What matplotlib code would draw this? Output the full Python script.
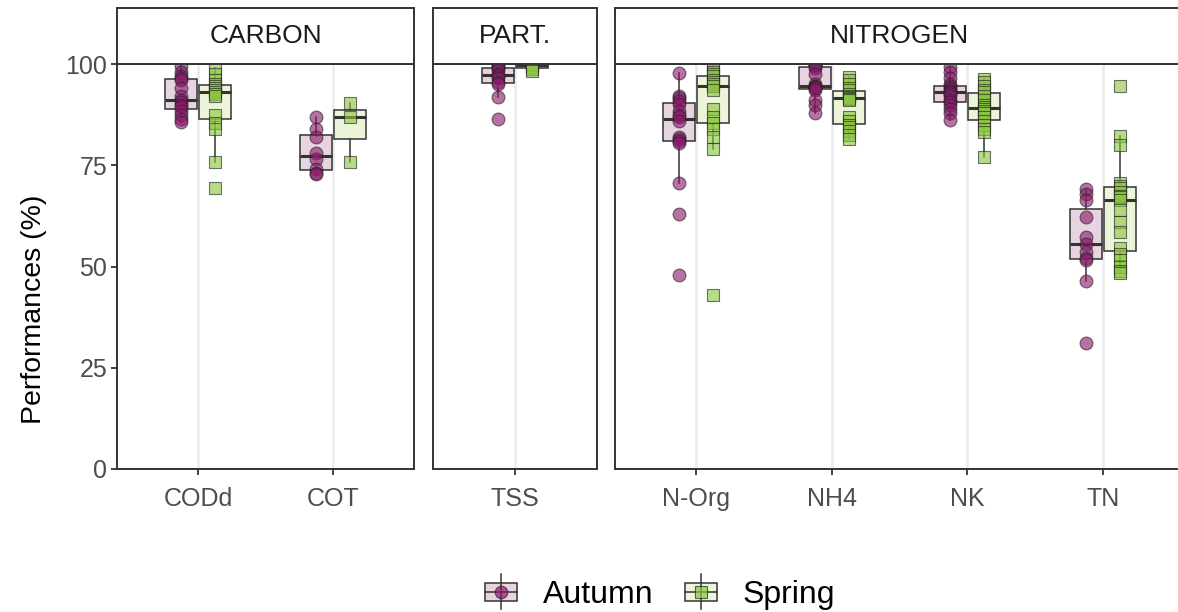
import numpy as np
import matplotlib.pyplot as plt
from matplotlib.patches import Patch, Rectangle
from matplotlib.lines import Line2D

plt.rcParams['font.family'] = ['Liberation Sans', 'DejaVu Sans']

# Werte (Performances in %)
codd_autumn = [99.5, 98, 97, 96.5, 96, 94, 92, 91, 90.5, 90, 89.5, 88.5, 87.5, 86.5, 85.7]
codd_spring = [99, 97.5, 96, 95, 94.5, 94, 93.5, 93, 92.5, 92, 87.5, 85.5, 84, 75.8, 69.4]
cot_autumn = [87, 84, 82, 78, 76.5, 74, 73.2, 72.8]
cot_spring = [90.3, 87, 75.8]
tss_autumn = [100, 99.5, 99.3, 99, 98.5, 97.5, 97, 96.5, 95.5, 95, 91.9, 86.4]
tss_spring = [100, 100, 100, 99.7, 99.2, 98.8, 98.2]
norg_autumn = [97.8, 92, 91.5, 90.8, 90.2, 88.5, 87.5, 86.8, 86, 82, 81.5, 81, 80.5, 70.6, 63, 48]
norg_spring = [99.5, 99, 98, 97.5, 97, 96, 95.5, 95, 94.5, 93.5, 89, 87, 85.5, 84, 82, 79, 43]
nh4_autumn = [100, 100, 99.8, 99.5, 99, 97.5, 95, 94.6, 94.4, 94.2, 94, 93.6, 91, 90, 88]
nh4_spring = [96.8, 96, 95, 94, 93.5, 92.5, 92, 91.8, 91.6, 91.4, 91.2, 87, 86, 85, 84.5, 83.5, 82.5, 81.5]
nk_autumn = [99.3, 98, 96.5, 95, 94.5, 94, 93.5, 93.2, 93, 92.5, 92, 91, 90.5, 90, 89, 88, 86.2]
nk_spring = [96.3, 95.5, 94.5, 93.5, 93, 92, 91, 90, 89.4, 89, 88.5, 88, 87, 86, 85, 84, 83.2, 77]
tn_autumn = [69.1, 68, 66.4, 62.2, 57.3, 55.6, 53.6, 52, 51.6, 46.4, 31.1]
tn_spring = [94.5, 82.2, 80, 70.5, 70, 69.5, 68.5, 67.5, 67.2, 66.5, 64, 61, 58.5, 54.5, 53, 51.5, 50, 49, 48.5]

facets = ['CARBON', 'PART.', 'NITROGEN']
facet_params = [['CODd', 'COT'], ['TSS'], ['N-Org', 'NH4', 'NK', 'TN']]
autumn = {'CODd': codd_autumn, 'COT': cot_autumn, 'TSS': tss_autumn, 'N-Org': norg_autumn,
          'NH4': nh4_autumn, 'NK': nk_autumn, 'TN': tn_autumn}
spring = {'CODd': codd_spring, 'COT': cot_spring, 'TSS': tss_spring, 'N-Org': norg_spring,
          'NH4': nh4_spring, 'NK': nk_spring, 'TN': tn_spring}
y_ticks = [0, 25, 50, 75, 100]

# Farben
aut_point = '#8b1a6b'
aut_box = '#e8d3e1'
spr_point = '#8cc63f'
spr_box = '#ecf5d9'
dark = '#333333'

W, H = 1178, 612
fig = plt.figure(figsize=(W / 100, H / 100), dpi=100)

# Panel-Positionen in Pixel (links, rechts)
panel_px = [(117, 414), (433, 597), (615, 1184)]
top_px, bottom_px, strip_top = 64, 469, 8

offset = 0.125
bw = 0.235

for i, (name, params) in enumerate(zip(facets, facet_params)):
    x0, x1 = panel_px[i]
    ax = fig.add_axes([x0 / W, (H - bottom_px) / H, (x1 - x0) / W, (bottom_px - top_px) / H])
    pos = np.arange(len(params))

    for season, data, pc, bc, mk, ms, dx in [
            ('Autumn', autumn, aut_point, aut_box, 'o', 85, -offset),
            ('Spring', spring, spr_point, spr_box, 's', 64, offset)]:
        vals = [data[p] for p in params]
        ax.boxplot(vals, positions=pos + dx, widths=bw, patch_artist=True,
                   showfliers=False, showcaps=False, whis=1.5,
                   boxprops=dict(facecolor=bc, edgecolor=dark, linewidth=1.1),
                   whiskerprops=dict(color=dark, linewidth=1.1),
                   medianprops=dict(color=dark, linewidth=2.2),
                   manage_ticks=False, zorder=2)
        for j, v in enumerate(vals):
            ax.scatter(np.full(len(v), pos[j] + dx), v, s=ms, marker=mk, color=pc,
                       edgecolor='#222222', linewidth=0.8, alpha=0.62, zorder=3)

    ax.set_xlim(-0.6, len(params) - 0.4)
    ax.set_ylim(0, 100)
    ax.set_xticks(pos)
    ax.set_xticklabels(params)
    ax.grid(axis='x', color='#ebebeb', linewidth=1.8)
    ax.set_axisbelow(True)
    for sp in ax.spines.values():
        sp.set_color(dark)
        sp.set_linewidth(1.4)
    ax.tick_params(axis='x', direction='out', length=4, width=1.3, color=dark,
                   labelsize=18, labelcolor='#4d4d4d', pad=9)
    ax.set_yticks(y_ticks)
    if i == 0:
        ax.tick_params(axis='y', direction='out', length=4, width=1.3, color=dark,
                       labelsize=18, labelcolor='#4d4d4d', pad=3)
        ax.set_ylabel('Performances (%)', fontsize=20.5, color='black')
        ax.yaxis.set_label_coords(-0.237, 0.395)
    else:
        ax.tick_params(axis='y', length=0, labelleft=False)

    # Streifen mit Facettenname
    sax = fig.add_axes([x0 / W, (H - top_px) / H, (x1 - x0) / W, (top_px - strip_top) / H])
    sax.set_xticks([])
    sax.set_yticks([])
    for sp in sax.spines.values():
        sp.set_color(dark)
        sp.set_linewidth(1.4)
    sax.text(0.5, 0.5, name, transform=sax.transAxes, ha='center', va='center',
             fontsize=19, color='#1a1a1a')


# Legendenschluessel wie bei ggplot (Box + Punkt)
class BoxKey:
    def __init__(self, box_color, point_color, marker, msize):
        self.bc = box_color
        self.pc = point_color
        self.mk = marker
        self.ms = msize

    def legend_artist(self, legend, orig_handle, fontsize, handlebox):
        x0, y0 = -handlebox.xdescent, -handlebox.ydescent
        w, h = handlebox.width, handlebox.height
        tr = handlebox.get_transform()
        bh = h * 0.5
        rect = Rectangle((x0, y0 + (h - bh) / 2), w, bh, facecolor=self.bc,
                         edgecolor=dark, linewidth=1.1, transform=tr)
        whisk = Line2D([x0 + w / 2] * 2, [y0, y0 + h], color=dark, linewidth=1.1, transform=tr)
        med = Line2D([x0, x0 + w], [y0 + h / 2] * 2, color=dark, linewidth=1.1, transform=tr)
        pt = Line2D([x0 + w / 2], [y0 + h / 2], marker=self.mk, markersize=self.ms,
                    markerfacecolor=self.pc, markeredgecolor='#222222', markeredgewidth=0.8,
                    alpha=0.7, linestyle='none', transform=tr)
        for a in (rect, whisk, med, pt):
            handlebox.add_artist(a)
        return rect


h_aut = Patch(label='Autumn')
h_spr = Patch(label='Spring')
fig.legend([h_aut, h_spr], ['Autumn', 'Spring'], loc='center',
           bbox_to_anchor=(660 / W, 20 / H), ncol=2, frameon=False, fontsize=23,
           handlelength=1.0, handleheight=1.3, handletextpad=0.8, columnspacing=1.0,
           handler_map={h_aut: BoxKey(aut_box, aut_point, 'o', 9),
                        h_spr: BoxKey(spr_box, spr_point, 's', 8)})

fig.savefig('out.png', dpi=100)
